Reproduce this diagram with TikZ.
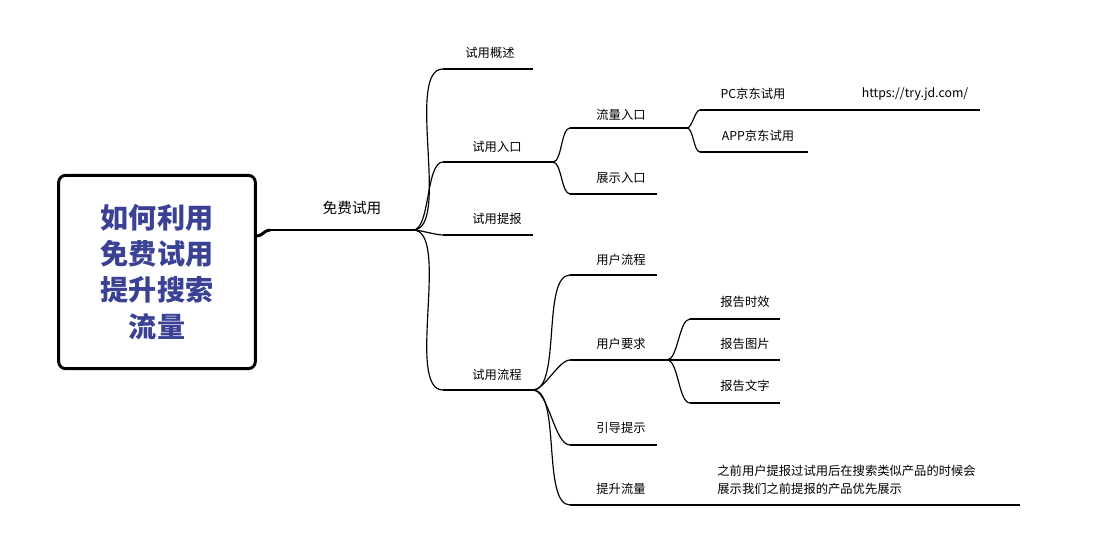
\documentclass[tikz,border=0pt]{standalone}
\usepackage{fontspec}
\setmainfont{Noto Sans CJK SC}
\usetikzlibrary{positioning}
\definecolor{rootblue}{HTML}{3B4296}

\begin{document}
\begin{tikzpicture}[x=0.03cm,y=-0.03cm,
	branch/.style={line width=1pt},
	lbl/.style={font=\fontsize{10.5}{12}\selectfont, inner sep=1pt},
	link/.style={branch, out=0, in=180, looseness=0.6}]
	\useasboundingbox (0,0) rectangle (1103,557);

	% --- root ---
	\node[draw, line width=2.5pt, rounded corners=6pt, minimum width=5.9cm, minimum height=5.8cm,
		text=rootblue, align=center, font=\fontsize{24}{31}\selectfont\bfseries] (root) at (157,272)
		{如何利用\\免费试用\\提升搜索\\流量};

	% --- line ends ---
	\coordinate (m0) at (270,230);   \coordinate (m1) at (413,230);
	\coordinate (a0) at (443,69);    \coordinate (a1) at (533,69);
	\coordinate (b0) at (443,162);   \coordinate (b1) at (553,162);
	\coordinate (c0) at (443,235);   \coordinate (c1) at (533,235);
	\coordinate (d0) at (443,390);   \coordinate (d1) at (533,390);
	\coordinate (b10) at (570,128);  \coordinate (b11) at (687,128);
	\coordinate (b20) at (570,194);  \coordinate (b21) at (657,194);
	\coordinate (p0) at (700,110);   \coordinate (p1) at (980,110);
	\coordinate (q0) at (700,152);   \coordinate (q1) at (808,152);
	\coordinate (d10) at (570,275);  \coordinate (d11) at (657,275);
	\coordinate (d20) at (570,360);  \coordinate (d21) at (667,360);
	\coordinate (d30) at (570,445);  \coordinate (d31) at (657,445);
	\coordinate (d40) at (570,505);  \coordinate (d41) at (1020,505);
	\coordinate (r10) at (690,319);  \coordinate (r11) at (780,319);
	\coordinate (r20) at (690,360);  \coordinate (r21) at (780,360);
	\coordinate (r30) at (690,403);  \coordinate (r31) at (780,403);

	% --- underlines ---
	\foreach \n in {m,a,b,c,d,b1,b2,p,q,d1,d2,d3,d4,r1,r2,r3}
		\draw[branch] (\n0) -- (\n1);

	% --- connectors ---
	\draw[line width=2.5pt] (root.east |- 0,236) to[out=0,in=180] (m0);
	\foreach \n in {a,b,c,d} \draw[link] (m1) to (\n0);
	\foreach \n in {b1,b2} \draw[link] (b1) to (\n0);
	\foreach \n in {p,q} \draw[link] (b11) to (\n0);
	\foreach \n in {d1,d2,d3,d4} \draw[link] (d1) to (\n0);
	\foreach \n in {r1,r2,r3} \draw[link] (d21) to (\n0);

	% --- labels ---
	\node[font=\fontsize{12.5}{14}\selectfont] (mt) at (352,208) {免费试用};
	\node[lbl] (at) at (490,53) {试用概述};
	\node[lbl] (bt) at (497,147) {试用入口};
	\node[lbl] (ct) at (497,219) {试用提报};
	\node[lbl] (dt) at (497,375) {试用流程};
	\node[lbl] (b1t) at (621,115) {流量入口};
	\node[lbl] (b2t) at (621,178) {展示入口};
	\node[lbl] (pt) at (753,94) {PC京东试用};
	\node[lbl] (url) at (915,94) {https://try.jd.com/};
	\node[lbl] (qt) at (758,136) {APP京东试用};
	\node[lbl] (d1t) at (621,260) {用户流程};
	\node[lbl] (d2t) at (621,344) {用户要求};
	\node[lbl] (d3t) at (621,428) {引导提示};
	\node[lbl] (d4t) at (621,489) {提升流量};
	\node[lbl] (r1t) at (745,302) {报告时效};
	\node[lbl] (r2t) at (745,344) {报告图片};
	\node[lbl] (r3t) at (745,386) {报告文字};
	\node[lbl, anchor=west, align=left, font=\fontsize{10.5}{15}\selectfont] (note) at (716,480)
		{之前用户提报过试用后在搜索类似产品的时候会\\展示我们之前提报的产品优先展示};
\end{tikzpicture}
\end{document}
